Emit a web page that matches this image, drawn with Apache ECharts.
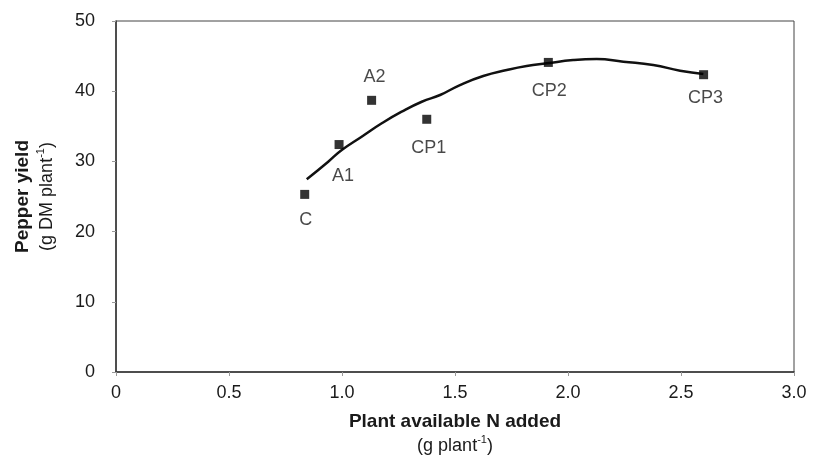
<!DOCTYPE html>
<html>
<head>
<meta charset="UTF-8">
<script src="https://cdn.jsdelivr.net/npm/echarts@6/dist/echarts.min.js"></script>
<style>
html, body { margin: 0; padding: 0; background: #fff; }
#main { width: 816px; height: 456px; }
</style>
</head>
<body>
<div id="main"></div>
<script>
// treatments (measured points)
var pointNames = ['C', 'A1', 'A2', 'CP1', 'CP2', 'CP3'];
var pointN     = [0.835, 0.987, 1.131, 1.375, 1.913, 2.600];
var pointYield = [25.3, 32.4, 38.7, 36.0, 44.1, 42.35];

// fitted curve
var curveN     = [0.844, 0.939, 0.999, 1.087, 1.176, 1.264, 1.353, 1.434, 1.522, 1.625, 1.729, 1.817, 1.906, 2.023, 2.127, 2.245, 2.377, 2.496, 2.599];
var curveYield = [27.45, 29.96, 31.62, 33.52, 35.43, 37.08, 38.50, 39.46, 40.88, 42.17, 43.02, 43.59, 43.97, 44.44, 44.59, 44.20, 43.73, 42.92, 42.45];

var xTicks = [0, 0.5, 1.0, 1.5, 2.0, 2.5, 3.0];
var yTicks = [0, 10, 20, 30, 40, 50];

// where each label sits relative to its marker
var labelPos = {
  'C':   { position: 'bottom', distance: 12, offset: [1, 0] },
  'A1':  { position: 'bottom', distance: 18, offset: [4, 0] },
  'A2':  { position: 'top',    distance: 10, offset: [3, 0] },
  'CP1': { position: 'bottom', distance: 15, offset: [2, 0] },
  'CP2': { position: 'bottom', distance: 15, offset: [1, 0] },
  'CP3': { position: 'bottom', distance: 10, offset: [2, 0] }
};

var font = 'Liberation Sans, Arial, sans-serif';

var scatterData = pointNames.map(function (n, i) {
  var lp = labelPos[n];
  return {
    name: n,
    value: [pointN[i], pointYield[i]],
    label: { show: true, formatter: n, position: lp.position, distance: lp.distance, offset: lp.offset }
  };
});
var curveData = curveN.map(function (x, i) { return [x, curveYield[i]]; });

var titleRich = {
  b: { fontSize: 19, fontWeight: 'bold', color: '#1a1a1a', fontFamily: font, lineHeight: 24 },
  n: { fontSize: 18, color: '#1a1a1a', fontFamily: font, lineHeight: 24 },
  s: { fontSize: 11, color: '#1a1a1a', fontFamily: font, verticalAlign: 'top', lineHeight: 14 }
};

var chart = echarts.init(document.getElementById('main'));
chart.setOption({
  animation: false,
  backgroundColor: '#fff',
  textStyle: { fontFamily: font },
  grid: {
    left: 116, top: 21, right: 22, bottom: 84,
    outerBoundsMode: 'none',
    containLabel: false,
    show: true, borderColor: '#444', borderWidth: 1
  },
  xAxis: {
    type: 'value', min: 0, max: 3, interval: 0.5,
    axisLine: { lineStyle: { color: '#333', width: 1.5 } },
    axisTick: { show: true, length: 4, lineStyle: { color: '#999' } },
    splitLine: { show: false },
    axisLabel: {
      color: '#1a1a1a', fontSize: 18, fontFamily: font, margin: 12,
      formatter: function (v) {
        var i = xTicks.indexOf(v);
        return i === 0 ? '0' : v.toFixed(1);
      }
    },
    name: '{b|Plant available N added}\n{n|(g plant}{s|-1}{n|)}',
    nameLocation: 'middle', nameGap: 38,
    nameTextStyle: { rich: titleRich }
  },
  yAxis: {
    type: 'value', min: 0, max: 50, interval: 10,
    axisLine: { show: true, lineStyle: { color: '#333', width: 1.5 } },
    axisTick: { show: true, length: 4, lineStyle: { color: '#999' } },
    splitLine: { show: false },
    axisLabel: {
      color: '#1a1a1a', fontSize: 18, fontFamily: font, margin: 21,
      formatter: function (v) { return yTicks.indexOf(v) >= 0 ? String(v) : ''; }
    },
    name: '{b|Pepper yield}\n{n|(g DM plant}{s|-1}{n|)}',
    nameLocation: 'middle', nameGap: 57, nameRotate: 90,
    nameTextStyle: { rich: titleRich }
  },
  series: [
    {
      type: 'line',
      data: curveData,
      smooth: true,
      symbol: 'none',
      lineStyle: { color: '#111', width: 2.5 },
      z: 2
    },
    {
      type: 'scatter',
      data: scatterData,
      symbol: 'rect',
      symbolSize: 9,
      itemStyle: { color: '#000' },
      label: { color: '#1a1a1a', fontSize: 18, fontFamily: font },
      z: 3
    }
  ]
});
</script>
</body>
</html>
